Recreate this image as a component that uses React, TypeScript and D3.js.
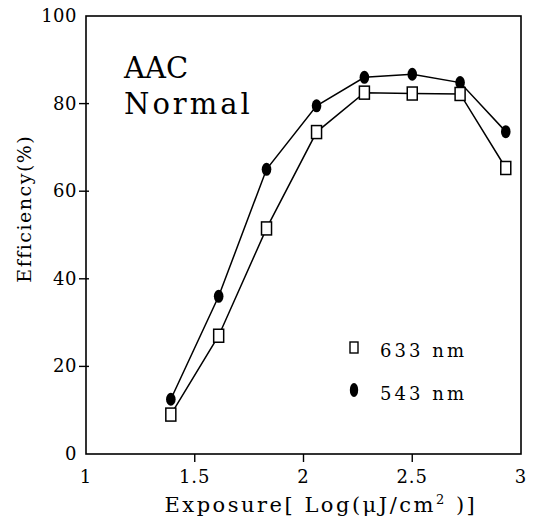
import React from "react";
import * as d3 from "d3";

const W = 538;
const H = 521;
const margin = { top: 16, right: 17, bottom: 67, left: 86 };

// exposure, Log(uJ/cm^2)
const exposure = [1.39, 1.61, 1.83, 2.06, 2.28, 2.5, 2.72, 2.93];
// efficiency (%)
const eff633 = [9, 27, 51.5, 73.5, 82.5, 82.3, 82.2, 65.3];
const eff543 = [12.5, 36, 65, 79.5, 86, 86.7, 84.8, 73.6];

const xTicks = [1, 1.5, 2, 2.5, 3];
const yTicks = [0, 20, 40, 60, 80, 100];

const FONT = "'DejaVu Serif', 'Liberation Serif', serif";

export default function App() {
  const x = d3.scaleLinear().domain([1, 3]).range([margin.left, W - margin.right]);
  const y = d3.scaleLinear().domain([0, 100]).range([H - margin.bottom, margin.top]);

  const line = d3
    .line<number>()
    .x((_, i) => x(exposure[i]))
    .y((d) => y(d));

  const x0 = x(1), x1 = x(3), y0 = y(0), y1 = y(100);

  return (
    <svg width={W} height={H} style={{ position: "absolute", left: 0, top: 0, background: "#fff" }}>
      {/* frame */}
      <rect x={x0} y={y1} width={x1 - x0} height={y0 - y1} fill="none" stroke="#000" strokeWidth={1.6} />

      {/* x axis */}
      {xTicks.map((t) => (
        <g key={"x" + t}>
          {t !== 1 && t !== 3 && <line x1={x(t)} x2={x(t)} y1={y0} y2={y0 + 8} stroke="#000" strokeWidth={1.4} />}
          <text x={x(t)} y={y0 + 29} textAnchor="middle" fontSize={18} fontFamily={FONT} letterSpacing={1}>
            {t}
          </text>
        </g>
      ))}

      {/* y axis */}
      {yTicks.map((t) => (
        <g key={"y" + t}>
          {t !== 0 && t !== 100 && <line x1={x0 - 7} x2={x0 + 3} y1={y(t)} y2={y(t)} stroke="#000" strokeWidth={1.4} />}
          <text x={x0 - 9} y={y(t) + 6} textAnchor="end" fontSize={18} fontFamily={FONT} letterSpacing={0.5}>
            {t}
          </text>
        </g>
      ))}

      {/* axis titles */}
      <text x={x(2.08)} y={H - 9} textAnchor="middle" fontSize={21} fontFamily={FONT} letterSpacing={2.5}>
        Exposure[ Log(μJ/cm<tspan dy={-8} fontSize={13}>2</tspan>
        <tspan dy={8}> )]</tspan>
      </text>
      <text
        transform={`translate(31, ${y(56)}) rotate(-90)`}
        textAnchor="middle"
        fontSize={19}
        fontFamily={FONT}
        letterSpacing={1.5}
      >
        Efficiency(%)
      </text>

      {/* series */}
      <path d={line(eff633) ?? ""} fill="none" stroke="#000" strokeWidth={1.5} />
      <path d={line(eff543) ?? ""} fill="none" stroke="#000" strokeWidth={1.5} />
      {eff543.map((v, i) => (
        <ellipse key={"c" + i} cx={x(exposure[i])} cy={y(v)} rx={4.8} ry={6.5} fill="#000" />
      ))}
      {eff633.map((v, i) => (
        <rect key={"s" + i} x={x(exposure[i]) - 5} y={y(v) - 6.5} width={10} height={13} fill="#fff" stroke="#000" strokeWidth={1.5} />
      ))}

      {/* annotation */}
      <text x={124} y={78} fontSize={29} fontFamily={FONT}>AAC</text>
      <text x={124} y={114} fontSize={29} fontFamily={FONT} letterSpacing={3}>Normal</text>

      {/* legend */}
      <rect x={350} y={342} width={8} height={11} fill="#fff" stroke="#000" strokeWidth={1.4} />
      <text x={380} y={357} fontSize={18} fontFamily={FONT} letterSpacing={3}>
        633<tspan dx={9}>nm</tspan>
      </text>
      <ellipse cx={354} cy={390} rx={4.2} ry={7} fill="#000" />
      <text x={380} y={400} fontSize={18} fontFamily={FONT} letterSpacing={3}>
        543<tspan dx={9}>nm</tspan>
      </text>
    </svg>
  );
}
